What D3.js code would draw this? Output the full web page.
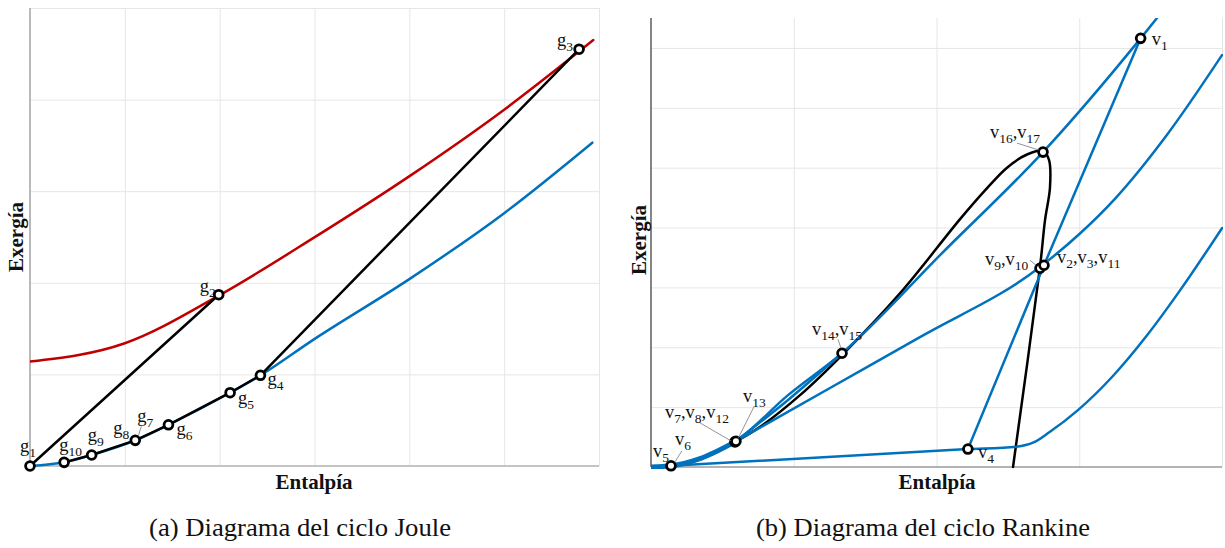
<!DOCTYPE html>
<html>
<head>
<meta charset="utf-8">
<script src="https://cdn.jsdelivr.net/npm/d3@7"></script>
<style>
  body { margin: 0; background: #fff; }
  svg { display: block; }
  svg text { font-family: "Liberation Serif", "Times New Roman", Tinos, "DejaVu Serif", serif; }
  .grid line { stroke: #e6e6e6; stroke-width: 1; }
  .grid path { stroke: none; }
  .pt-label { font-size: 18.5px; fill: #111; }
  .axis-title { font-size: 21px; font-weight: bold; fill: #111; }
  .caption { font-size: 26px; fill: #111; }
  .leader { stroke: #777; stroke-width: 0.8; }
</style>
</head>
<body>
<div id="chart"></div>
<script>
// Two exergy-enthalpy diagrams side by side: (a) Joule cycle, (b) Rankine cycle.
// Units are arbitrary (grid units).

// ---- (a) Joule ----
const JOULE_POINTS = [
  { name: 'g1', h: 0.00, e: 0.00 },
  { name: 'g10', h: 0.36, e: 0.04 },
  { name: 'g9', h: 0.65, e: 0.12 },
  { name: 'g8', h: 1.11, e: 0.28 },
  { name: 'g7', h: 1.11, e: 0.28 },
  { name: 'g6', h: 1.46, e: 0.45 },
  { name: 'g5', h: 2.11, e: 0.80 },
  { name: 'g4', h: 2.43, e: 0.99 },
  { name: 'g2', h: 1.99, e: 1.87 },
  { name: 'g3', h: 5.79, e: 4.55 },
];
// high-pressure isobar (red)
const JOULE_RED_H = [0.00, 1.00, 1.99, 2.99, 4.01, 5.00, 5.94];
const JOULE_RED_E = [1.14, 1.34, 1.86, 2.49, 3.17, 3.89, 4.65];
// low-pressure isobar (blue)
const JOULE_BLUE_H = [0.00, 0.36, 0.65, 1.11, 1.46, 2.11, 2.43, 2.99, 4.00, 5.00, 5.93];
const JOULE_BLUE_E = [0.00, 0.04, 0.12, 0.28, 0.45, 0.80, 0.99, 1.38, 2.04, 2.76, 3.53];
// black process segments, by point name
const JOULE_BLACK = [
  ['g1', 'g2'],
  ['g3', 'g4'],
  ['g10', 'g9', 'g8', 'g6', 'g5', 'g4'],
];
const JOULE_MARKERS = ['g1', 'g10', 'g9', 'g8', 'g6', 'g5', 'g4', 'g2', 'g3'];
const JOULE_LABELS = [
  { names: ['g1'], at: 'g1' },
  { names: ['g10'], at: 'g10' },
  { names: ['g9'], at: 'g9' },
  { names: ['g8'], at: 'g8' },
  { names: ['g7'], at: 'g7' },
  { names: ['g6'], at: 'g6' },
  { names: ['g5'], at: 'g5' },
  { names: ['g4'], at: 'g4' },
  { names: ['g2'], at: 'g2' },
  { names: ['g3'], at: 'g3' },
];

// ---- (b) Rankine ----
const RANKINE_POINTS = [
  { name: 'v1', h: 3.430, e: 7.16 },
  { name: 'v16', h: 2.746, e: 5.26 },
  { name: 'v2', h: 2.753, e: 3.37 },
  { name: 'v9', h: 2.725, e: 3.32 },
  { name: 'v14', h: 1.338, e: 1.90 },
  { name: 'v7', h: 0.588, e: 0.42 },
  { name: 'v13', h: 0.595, e: 0.43 },
  { name: 'v5', h: 0.140, e: 0.02 },
  { name: 'v4', h: 2.220, e: 0.30 },
];
// high-pressure isobar through v7, v14, v16, v1
const RK_HP_H = [0.000, 0.140, 0.343, 0.588, 0.960, 1.338, 2.046, 2.746, 3.430, 3.545];
const RK_HP_E = [0.00, 0.02, 0.13, 0.42, 1.20, 1.90, 3.59, 5.26, 7.16, 7.50];
// second liquid-heating line v7 -> v14
const RK_LIQ_H = [0.588, 0.960, 1.338];
const RK_LIQ_E = [0.42, 1.12, 1.90];
// expansion line v1 -> v2 -> v4
const RK_EXP_H = [3.430, 2.753, 2.220];
const RK_EXP_E = [7.16, 3.37, 0.30];
// low-pressure isobar (condenser) through v5, v4
const RK_LP_H = [0.000, 0.140, 2.220, 2.560, 2.680, 2.790, 2.991, 3.236, 3.475, 3.706, 4.000];
const RK_LP_E = [0.00, 0.02, 0.30, 0.34, 0.41, 0.58, 0.95, 1.52, 2.20, 2.95, 3.99];
// intermediate isobar v7 -> v9 -> out
const RK_MP_H = [0.588, 1.254, 1.884, 2.725, 3.005, 3.250, 3.615, 4.000];
const RK_MP_E = [0.42, 1.32, 2.17, 3.34, 3.90, 4.48, 5.55, 6.88];
// saturation dome (black)
const RK_DOME_H = [0.140, 0.343, 0.588, 0.764, 1.044, 1.338, 1.744, 2.165, 2.340, 2.494, 2.634, 2.746, 2.788, 2.795, 2.760, 2.725, 2.536];
const RK_DOME_E = [0.02, 0.13, 0.42, 0.67, 1.20, 1.87, 2.90, 4.14, 4.62, 5.00, 5.22, 5.28, 5.13, 4.67, 4.12, 3.34, 0.00];
// pump bundle v5 -> v7 (several overlapping lines)
const RK_PUMP_H = [0.000, 0.140, 0.343, 0.588];
const RK_PUMP_E = [0.00, 0.02, 0.14, 0.42];
const RANKINE_MARKERS = ['v1', 'v16', 'v9', 'v2', 'v14', 'v7', 'v13', 'v5', 'v4'];
const RANKINE_LABELS = [
  { names: ['v1'], at: 'v1' },
  { names: ['v16', 'v17'], at: 'v16' },
  { names: ['v9', 'v10'], at: 'v9' },
  { names: ['v2', 'v3', 'v11'], at: 'v2' },
  { names: ['v4'], at: 'v4' },
  { names: ['v14', 'v15'], at: 'v14' },
  { names: ['v13'], at: 'v7' },
  { names: ['v7', 'v8', 'v12'], at: 'v7' },
  { names: ['v5'], at: 'v5' },
  { names: ['v6'], at: 'v5' },
];

// label placement (pixel offsets from the point: text start, baseline; optional leader line)
const LABEL_LAYOUT = {
  g1: { dx: -10, dy: -14 },
  g10: { dx: -5, dy: -11 },
  g9: { dx: -4, dy: -14 },
  g8: { dx: -22, dy: -6 },
  g7: { dx: 2, dy: -18, leader: [[6, -14], [3, -4]] },
  g6: { dx: 8, dy: 10 },
  g5: { dx: 8, dy: 11 },
  g4: { dx: 7, dy: 10 },
  g2: { dx: -19, dy: -3 },
  g3: { dx: -22, dy: -3 },
  v1: { dx: 11, dy: 7 },
  'v16,v17': { dx: -53, dy: -14, leader: [[-26, -9], [-4, -2]] },
  'v9,v10': { dx: -55, dy: -3, leader: [[-10, -8], [-4, -3]] },
  'v2,v3,v11': { dx: 13, dy: -2, leader: [[8, -7], [3, -3]] },
  v4: { dx: 10, dy: 9 },
  'v14,v15': { dx: -30, dy: -18, leader: [[-4, -14], [-1, -5]] },
  v13: { dx: 8, dy: -40, leader: [[19, -35], [3, -3]] },
  'v7,v8,v12': { dx: -70, dy: -24, leader: [[-35, -19], [-4, -1]] },
  v5: { dx: -18, dy: -9 },
  v6: { dx: 4, dy: -21, leader: [[11, -15], [4, -4]] },
};

const BLUE = '#0072bd';
const RED = '#c00000';

const d3 = window.d3;
const W = 1225, H = 548;

const svg = d3.select('#chart').append('svg').attr('width', W).attr('height', H);
svg.append('rect').attr('width', W).attr('height', H).attr('fill', '#fff');

const zip = (hs, es) => hs.map((h, i) => ({ h, e: es[i] }));

function setupPanel(id, { x0, x1, y0, y1, xDomain, yDomain, xTicks, yTicks, leftAxisColor, bottomAxisColor }) {
  const x = d3.scaleLinear().domain(xDomain).range([x0, x1]);
  const y = d3.scaleLinear().domain(yDomain).range([y1, y0]);
  const g = svg.append('g').attr('class', `panel-${id}`);

  g.append('g').attr('class', 'grid')
    .attr('transform', `translate(0,${y1})`)
    .call(d3.axisBottom(x).tickValues(xTicks).tickSize(-(y1 - y0)).tickFormat(''));
  g.append('g').attr('class', 'grid')
    .attr('transform', `translate(${x0},0)`)
    .call(d3.axisLeft(y).tickValues(yTicks).tickSize(-(x1 - x0)).tickFormat(''));

  g.append('line').attr('x1', x0).attr('x2', x1).attr('y1', y1).attr('y2', y1)
    .attr('stroke', bottomAxisColor).attr('stroke-width', 1.3);
  g.append('line').attr('x1', x0).attr('x2', x0).attr('y1', y0).attr('y2', y1)
    .attr('stroke', leftAxisColor).attr('stroke-width', 1.6);

  svg.append('clipPath').attr('id', `clip-${id}`)
    .append('rect').attr('x', x0).attr('y', y0).attr('width', x1 - x0 + 1).attr('height', y1 - y0 + 2);
  const plot = g.append('g').attr('clip-path', `url(#clip-${id})`);
  return { g, plot, x, y };
}

function drawLine(plot, x, y, pts, color, width, curve) {
  const line = d3.line().x((d) => x(d.h)).y((d) => y(d.e)).curve(curve || d3.curveLinear);
  plot.append('path').datum(pts)
    .attr('fill', 'none').attr('stroke', color).attr('stroke-width', width)
    .attr('stroke-linejoin', 'round').attr('stroke-linecap', 'round')
    .attr('d', line);
}

function drawMarkers(g, x, y, pts) {
  g.selectAll(null).data(pts).join('circle')
    .attr('cx', (d) => x(d.h)).attr('cy', (d) => y(d.e)).attr('r', 4.4)
    .attr('fill', '#fff').attr('stroke', '#000').attr('stroke-width', 2.8);
}

function drawLabels(g, x, y, labels, byName) {
  labels.forEach((lab) => {
    const key = lab.names.join(',');
    const lay = LABEL_LAYOUT[key];
    const p = byName[lab.at];
    const px = x(p.h), py = y(p.e);
    if (lay.leader) {
      g.append('line').attr('class', 'leader')
        .attr('x1', px + lay.leader[0][0]).attr('y1', py + lay.leader[0][1])
        .attr('x2', px + lay.leader[1][0]).attr('y2', py + lay.leader[1][1]);
    }
    const t = g.append('text').attr('class', 'pt-label').attr('x', px + lay.dx).attr('y', py + lay.dy);
    let down = false;
    lab.names.forEach((n, i) => {
      const [, letter, num] = n.match(/([a-z]+)(\d+)/);
      t.append('tspan').attr('dy', down ? -5 : 0).text((i > 0 ? ',' : '') + letter);
      t.append('tspan').attr('dy', 5).attr('font-size', 13.5).text(num);
      down = true;
    });
  });
}

function drawTitles(g, { xTitleX, yTitleX, yTitleY, captionX, caption, captionWidth }) {
  g.append('text').attr('class', 'axis-title').attr('text-anchor', 'middle')
    .attr('x', xTitleX).attr('y', 489).text('Entalpía');
  g.append('text').attr('class', 'axis-title').attr('text-anchor', 'middle')
    .attr('transform', `translate(${yTitleX},${yTitleY}) rotate(-90)`).text('Exergía');
  g.append('text').attr('class', 'caption')
    .attr('x', captionX - captionWidth / 2).attr('y', 536)
    .attr('textLength', captionWidth).attr('lengthAdjust', 'spacingAndGlyphs')
    .text(caption);
}

// ---------- panel (a) ----------
{
  const { g, plot, x, y } = setupPanel('a', {
    x0: 30, x1: 599, y0: 8, y1: 466,
    xDomain: [0, 6], yDomain: [0, 5],
    xTicks: [1, 2, 3, 4, 5, 6], yTicks: [1, 2, 3, 4, 5],
    leftAxisColor: '#a8a8a8', bottomAxisColor: '#b0b0b0',
  });
  const byName = Object.fromEntries(JOULE_POINTS.map((p) => [p.name, p]));
  drawLine(plot, x, y, zip(JOULE_BLUE_H, JOULE_BLUE_E), BLUE, 2.5, d3.curveMonotoneX);
  drawLine(plot, x, y, zip(JOULE_RED_H, JOULE_RED_E), RED, 2.5, d3.curveMonotoneX);
  JOULE_BLACK.forEach((seg) => drawLine(plot, x, y, seg.map((n) => byName[n]), '#000', 2.5));
  drawMarkers(g, x, y, JOULE_MARKERS.map((n) => byName[n]));
  drawLabels(g, x, y, JOULE_LABELS, byName);
  drawTitles(g, { xTitleX: 314, yTitleX: 23, yTitleY: 237, captionX: 300, caption: '(a) Diagrama del ciclo Joule', captionWidth: 302 });
}

// ---------- panel (b) ----------
{
  const { g, plot, x, y } = setupPanel('b', {
    x0: 651, x1: 1222, y0: 18, y1: 467,
    xDomain: [0, 4], yDomain: [0, 7.5],
    xTicks: [1, 2, 3, 4], yTicks: [1, 2, 3, 4, 5, 6, 7],
    leftAxisColor: '#666', bottomAxisColor: '#9a9a9a',
  });
  const byName = Object.fromEntries(RANKINE_POINTS.map((p) => [p.name, p]));
  drawLine(plot, x, y, zip(RK_DOME_H, RK_DOME_E), '#000', 2.5, d3.curveCatmullRom);
  drawLine(plot, x, y, zip(RK_LP_H, RK_LP_E), BLUE, 2.5, d3.curveMonotoneX);
  drawLine(plot, x, y, zip(RK_MP_H, RK_MP_E), BLUE, 2.5, d3.curveMonotoneX);
  drawLine(plot, x, y, zip(RK_EXP_H, RK_EXP_E), BLUE, 2.5);
  drawLine(plot, x, y, zip(RK_LIQ_H, RK_LIQ_E), BLUE, 2.5, d3.curveMonotoneX);
  drawLine(plot, x, y, zip(RK_HP_H, RK_HP_E), BLUE, 2.5, d3.curveMonotoneX);
  drawLine(plot, x, y, zip(RK_PUMP_H, RK_PUMP_E), BLUE, 5, d3.curveMonotoneX);
  drawMarkers(g, x, y, RANKINE_MARKERS.map((n) => byName[n]));
  drawLabels(g, x, y, RANKINE_LABELS, byName);
  drawTitles(g, { xTitleX: 937, yTitleX: 646, yTitleY: 240, captionX: 923, caption: '(b) Diagrama del ciclo Rankine', captionWidth: 334 });
}
</script>
</body>
</html>
